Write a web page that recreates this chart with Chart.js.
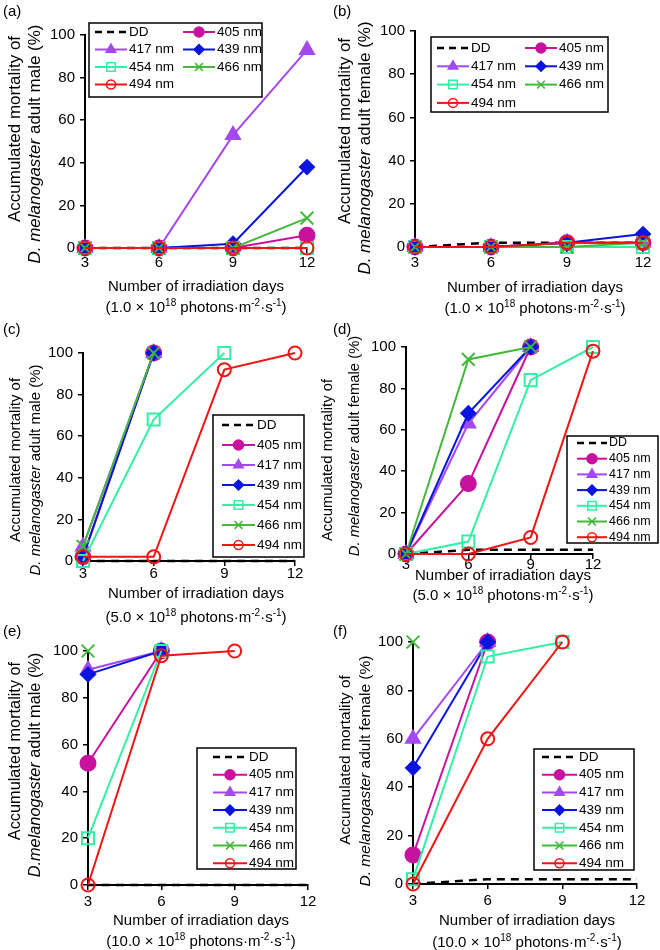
<!DOCTYPE html>
<html>
<head>
<meta charset="utf-8">
<script src="https://cdn.jsdelivr.net/npm/chart.js"></script>
<style>
  body { margin: 0; background: #fff; font-family: "Liberation Sans", Arial, sans-serif; color: #000; }
  #fig { position: relative; width: 660px; height: 950px; overflow: hidden; }
  canvas { position: absolute; }
  .txt { position: absolute; white-space: nowrap; transform: translate(-50%, -50%); font-size: 15px; line-height: 17px; }
  .yt { position: absolute; white-space: nowrap; transform: translate(-50%, -50%) rotate(-90deg); font-size: 15px; line-height: 17px; }
  .tag { position: absolute; font-size: 15px; }
  sup { font-size: 10px; line-height: 0; vertical-align: 6px; }
</style>
</head>
<body>
<div id="fig"></div>
<script>
// Datos (orden: DD, 405, 417, 439, 454, 466, 494 nm)
const days = [3, 6, 9, 12];
const names = ['DD', '405 nm', '417 nm', '439 nm', '454 nm', '466 nm', '494 nm'];
const yTicks = [0, 20, 40, 60, 80, 100];

// (a) macho, 1.0 x 10^18
const maleLow = [
  [0, 0, 0, 0],
  [0, 0, 0, 6],
  [0, 0, 53, 93],
  [0, 0, 2, 38],
  [0, 0, 0, 0],
  [0, 0, 0, 14],
  [0, 0, 0, 0]
];
// (b) hembra, 1.0 x 10^18
const femaleLow = [
  [0, 2, 2, 2],
  [0, 0, 2, 2],
  [0, 0, 2, 2],
  [0, 0, 2, 6],
  [0, 0, 0, 0],
  [0, 0, 0, 2],
  [0, 0, 2, 2]
];
// (c) macho, 5.0 x 10^18
const maleMid = [
  [0, 0, 0, 0],
  [2, 100, null, null],
  [7, 100, null, null],
  [2, 100, null, null],
  [0, 68, 100, null],
  [7, 100, null, null],
  [2, 2, 92, 100]
];
// (d) hembra, 5.0 x 10^18
const femaleMid = [
  [0, 2, 2, 2],
  [0, 34, 100, null],
  [0, 63, 100, null],
  [0, 68, 100, null],
  [0, 6, 84, 100],
  [0, 94, 100, null],
  [0, 0, 8, 98]
];
// (e) macho, 10.0 x 10^18
const maleHigh = [
  [0, 0, 0, 0],
  [52, 100, null, null],
  [92, 100, null, null],
  [90, 100, null, null],
  [20, 100, null, null],
  [100, null, null, null],
  [0, 98, 100, null]
];
// (f) hembra, 10.0 x 10^18
const femaleHigh = [
  [0, 2, 2, 2],
  [12, 100, null, null],
  [60, 100, null, null],
  [48, 100, null, null],
  [2, 94, 100, null],
  [100, null, null, null],
  [0, 60, 100, null]
];

// Estilos de cada serie
const colors = ['#000000', '#C8129E', '#A448F2', '#0A14E0', '#33EFA6', '#45B83C', '#F01414'];
const fills = ['#000000', '#C8129E', '#A448F2', '#0A14E0', 'rgba(0,0,0,0)', '#45B83C', 'rgba(0,0,0,0)'];
const shapes = [false, 'circle', 'triangle', 'rectRot', 'rect', 'crossRot', 'circle'];
const radii = [0, 7.5, 8, 7, 8.5, 9, 6.5];
const legendRadii = [0, 5, 5.5, 5, 6, 5.5, 4.5];

Chart.defaults.font.family = '"Liberation Sans", Arial, sans-serif';
Chart.defaults.color = '#000';

// Leyenda con recuadro dibujada dentro del lienzo
const boxLegend = {
  id: 'boxLegend',
  afterDraw(chart, args, o) {
    if (!o || !o.w) return;
    const ctx = chart.ctx;
    ctx.save();
    ctx.fillStyle = '#fff';
    ctx.fillRect(o.x, o.y, o.w, o.h);
    ctx.lineWidth = 1.5;
    ctx.strokeStyle = '#000';
    ctx.strokeRect(o.x, o.y, o.w, o.h);
    ctx.font = (o.font || 13.5) + 'px "Liberation Sans", Arial, sans-serif';
    ctx.textBaseline = 'middle';
    names.forEach((name, i) => {
      const col = i % o.cols;
      const row = Math.floor(i / o.cols);
      const x0 = o.x + o.lineX + col * o.colW;
      const y = o.y + o.firstY + row * o.rowH;
      ctx.strokeStyle = colors[i];
      ctx.lineWidth = i === 0 ? 2.5 : 2;
      ctx.setLineDash(i === 0 ? [7, 5] : []);
      ctx.beginPath();
      ctx.moveTo(x0, y);
      ctx.lineTo(x0 + o.lineLen, y);
      ctx.stroke();
      ctx.setLineDash([]);
      if (shapes[i]) {
        ctx.fillStyle = fills[i];
        ctx.lineWidth = 1.5;
        Chart.helpers.drawPoint(ctx, { pointStyle: shapes[i], radius: legendRadii[i], rotation: 0, borderWidth: 1.5 }, x0 + o.lineLen / 2, y);
      }
      ctx.fillStyle = '#000';
      ctx.fillText(name, x0 + o.lineLen + 2, y);
    });
    ctx.restore();
  }
};

// Ubicacion de cada panel en la pagina
const panels = [
  { tag: '(a)', rows: maleLow, cx: 0, cy: 0, h: 320, left: 85, right: 307, top: 35, bottom: 248, tickPad: 1, ytSize: 17,
    legend: { x: 89, y: 23, w: 173, h: 74, cols: 2, colW: 88, lineX: 6, lineLen: 32, firstY: 9, rowH: 17.5 },
    dose: '1.0', sex: 'male', xt: [196, 285, 306], yt: [[14, 129], [34, 144]] },
  { tag: '(b)', rows: femaleLow, cx: 330, cy: 0, h: 320, left: 85, right: 313, top: 31, bottom: 247, tickPad: 2, ytSize: 17,
    legend: { x: 101, y: 37, w: 177, h: 75, cols: 2, colW: 88, lineX: 6, lineLen: 32, firstY: 11, rowH: 18.3 },
    dose: '1.0', sex: 'female', xt: [535, 286, 307], yt: [[344, 131], [364, 148]] },
  { tag: '(c)', rows: maleMid, cx: 0, cy: 310, h: 320, left: 83, right: 295, top: 43, bottom: 251, tickPad: -1, ytSize: 15,
    legend: { x: 213, y: 105, w: 91, h: 142, cols: 1, colW: 0, lineX: 9, lineLen: 33, firstY: 10, rowH: 20 },
    dose: '5.0', sex: 'male', xt: [196, 592, 616], yt: [[14, 460], [34, 470]] },
  { tag: '(d)', rows: femaleMid, cx: 330, cy: 310, h: 320, left: 76, right: 263, top: 37, bottom: 244, tickPad: -3, ytSize: 14.8,
    legend: { x: 237, y: 126, w: 91, h: 107, cols: 1, colW: 0, lineX: 10, lineLen: 30, firstY: 7, rowH: 15.7, font: 12.5 },
    dose: '5.0', sex: 'female', xt: [503, 574, 594], yt: [[327, 460], [354, 446]] },
  { tag: '(e)', rows: maleHigh, cx: 0, cy: 620, h: 330, left: 88, right: 308, top: 31, bottom: 265, tickPad: 3, ytSize: 16.3,
    legend: { x: 197, y: 128, w: 99, h: 121, cols: 1, colW: 0, lineX: 16, lineLen: 34, firstY: 9, rowH: 17.7 },
    dose: '10.0', sex: 'male', xt: [201, 919, 940], yt: [[14, 751], [34, 765]] },
  { tag: '(f)', rows: femaleHigh, cx: 330, cy: 620, h: 330, left: 83, right: 307, top: 22, bottom: 264, tickPad: 3, ytSize: 15.5,
    legend: { x: 204, y: 129, w: 100, h: 121, cols: 1, colW: 0, lineX: 8, lineLen: 35, firstY: 8, rowH: 17.7 },
    dose: '10.0', sex: 'female', xt: [527, 919, 941], yt: [[344, 760], [364, 771]] }
];

const fig = document.getElementById('fig');

function addText(cls, html, x, y, size) {
  const d = document.createElement('div');
  d.className = cls;
  d.innerHTML = html;
  d.style.left = x + 'px';
  d.style.top = y + 'px';
  if (size) d.style.fontSize = size + 'px';
  fig.appendChild(d);
}

panels.forEach((p) => {
  const W = 330;
  const canvas = document.createElement('canvas');
  canvas.width = W;
  canvas.height = p.h;
  canvas.style.left = p.cx + 'px';
  canvas.style.top = p.cy + 'px';
  fig.appendChild(canvas);

  const datasets = names.map((name, i) => ({
    label: name,
    data: days.map((d, k) => ({ x: d, y: p.rows[i][k] })).filter((pt) => pt.y !== null),
    borderColor: colors[i],
    backgroundColor: fills[i],
    pointBackgroundColor: fills[i],
    pointBorderColor: colors[i],
    pointStyle: shapes[i],
    pointRadius: radii[i],
    pointBorderWidth: 2,
    borderWidth: i === 0 ? 2.5 : 2,
    borderDash: i === 0 ? [8, 6] : [],
    tension: 0,
    clip: false,
    order: 6 - i
  }));

  new Chart(canvas, {
    type: 'line',
    data: { datasets },
    options: {
      responsive: false,
      animation: false,
      layout: { padding: { left: 0, top: p.top, right: W - p.right, bottom: 0 } },
      plugins: { legend: { display: false }, tooltip: { enabled: false }, boxLegend: p.legend },
      scales: {
        x: {
          type: 'linear', min: 3, max: 12,
          afterFit: (s) => { s.height = p.h - p.bottom; },
          afterBuildTicks: (s) => { s.ticks = days.map((v) => ({ value: v })); },
          ticks: { font: { size: 15 }, padding: p.tickPad, color: '#000' },
          grid: { drawOnChartArea: false, drawTicks: true, tickLength: 5, color: '#000', lineWidth: 1.5 },
          border: { display: true, color: '#000', width: 2 }
        },
        y: {
          min: 0, max: 100,
          afterFit: (s) => { s.width = p.left; },
          afterBuildTicks: (s) => { s.ticks = yTicks.map((v) => ({ value: v })); },
          ticks: { font: { size: 15 }, padding: 5, color: '#000' },
          grid: { drawOnChartArea: false, drawTicks: true, tickLength: 5, color: '#000', lineWidth: 1.5 },
          border: { display: true, color: '#000', width: 2 }
        }
      }
    },
    plugins: [boxLegend]
  });

  // Textos en HTML (titulos de ejes y etiqueta del panel)
  addText('tag', p.tag, p.cx + 3, p.cy + (p.cy === 310 ? 10 : 2));
  addText('txt', 'Number of irradiation days', p.xt[0], p.xt[1]);
  addText('txt', '(' + p.dose + ' × 10<sup>18</sup> photons·m<sup>-2</sup>·s<sup>-1</sup>)', p.xt[0], p.xt[2]);
  addText('yt', 'Accumulated mortality of', p.yt[0][0], p.yt[0][1], p.ytSize);
  const dot = p.tag === '(e)' ? '<i>D.melanogaster</i>' : '<i>D. melanogaster</i>';
  addText('yt', dot + ' adult ' + p.sex + ' (%)', p.yt[1][0], p.yt[1][1], p.ytSize);
});
</script>
</body>
</html>
